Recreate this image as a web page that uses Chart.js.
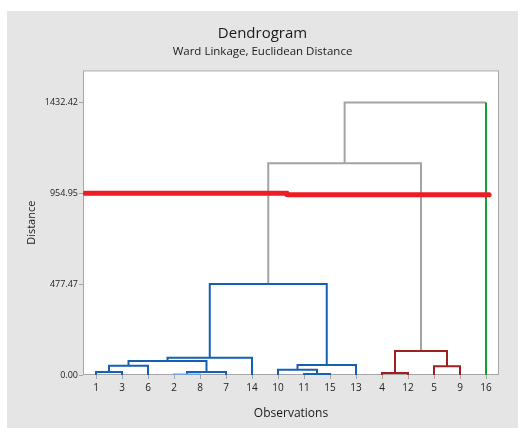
<!DOCTYPE html>
<html>
<head>
<meta charset="utf-8">
<script src="https://cdn.jsdelivr.net/npm/chart.js@4"></script>
<style>body{margin:0;background:#fff}</style>
</head>
<body>
<canvas id="myChart" width="518" height="428"></canvas>
<script>
// leaf labels in plotted order
var leaves = ['1', '3', '6', '2', '8', '7', '14', '10', '11', '15', '13', '4', '12', '5', '9', '16'];
// linkage: node 0-15 are leaves (plot order), merge k makes node 16+k
var mergeLeft   = [0, 16, 3, 18, 17, 20, 8, 7, 23, 21, 11, 13, 26, 25, 29];
var mergeRight  = [1, 2, 4, 5, 19, 6, 9, 22, 10, 24, 12, 14, 27, 28, 15];
var mergeHeight = [16, 49, 2, 16, 73.5, 91, 5, 28, 52.5, 478, 10, 45.5, 126, 1113.6, 1432.42];
var yTicks = [0, 477.47, 954.95, 1432.42];
// similarity cut line (drawn in two pieces, as in the original)
var cutLevels = [954.95, 948];
var cutFrom = [0.58, 8.35];
var cutTo = [8.35, 16.12];

var BLUE = '#1560b4', LIGHTBLUE = '#6fa3dc', RED = '#a01f23', GRAY = '#a3a3a3', GREEN = '#15a032';
var mergeColor = [BLUE, BLUE, LIGHTBLUE, BLUE, BLUE, BLUE, BLUE, BLUE, BLUE, BLUE, RED, RED, RED, GRAY, GRAY];
var leafColor = {15: GREEN};

var FONT = "'Open Sans', 'Noto Sans', sans-serif";

var nodeX = leaves.map(function(l, i) { return i + 1; });
var nodeY = leaves.map(function() { return 0; });
var datasets = [];

cutLevels.forEach(function(lvl, i) {
    datasets.push({
        data: [{x: cutFrom[i], y: lvl}, {x: cutTo[i], y: lvl}],
        borderColor: '#ee1d25',
        borderWidth: 5,
        borderCapStyle: 'round',
        pointRadius: 0,
        showLine: true
    });
});

mergeHeight.forEach(function(h, k) {
    var a = mergeLeft[k], b = mergeRight[k];
    var col = mergeColor[k];
    var segCols = [leafColor[a] || col, col, leafColor[b] || col];
    datasets.push({
        data: [
            {x: nodeX[a], y: nodeY[a]},
            {x: nodeX[a], y: h},
            {x: nodeX[b], y: h},
            {x: nodeX[b], y: nodeY[b]}
        ],
        borderColor: col,
        borderWidth: 2,
        borderJoinStyle: 'miter',
        pointRadius: 0,
        showLine: true,
        segment: {
            borderColor: function(c) { return segCols[c.p0DataIndex]; }
        }
    });
    nodeX.push((nodeX[a] + nodeX[b]) / 2);
    nodeY.push(h);
});

var frame = {
    id: 'frame',
    beforeDraw: function(chart) {
        var c = chart.ctx, a = chart.chartArea;
        c.save();
        c.fillStyle = '#e5e5e5';
        c.fillRect(7, 11, chart.width - 7, chart.height - 11);
        c.fillStyle = '#fff';
        c.fillRect(a.left, a.top, a.right - a.left, a.bottom - a.top);
        c.strokeStyle = '#a6a6a6';
        c.lineWidth = 1;
        c.strokeRect(a.left + 0.5, a.top + 0.5, a.right - a.left - 1, a.bottom - a.top - 1);
        c.restore();
    }
};

var ctx = document.getElementById('myChart').getContext('2d');
var myChart = new Chart(ctx, {
    type: 'scatter',
    data: {datasets: datasets},
    plugins: [frame],
    options: {
        responsive: false,
        animation: false,
        layout: {padding: {top: 11, left: 7, right: 0, bottom: 0}},
        plugins: {
            legend: {display: false},
            tooltip: {enabled: false},
            title: {
                display: true,
                text: 'Dendrogram',
                color: '#1a1a1a',
                font: {family: FONT, size: 15, weight: 'normal'},
                padding: {top: 14, bottom: 2}
            },
            subtitle: {
                display: true,
                text: 'Ward Linkage, Euclidean Distance',
                color: '#1a1a1a',
                font: {family: FONT, size: 11.5},
                padding: {top: 0, bottom: 11.6}
            }
        },
        scales: {
            x: {
                type: 'linear',
                min: 0.5,
                max: 16.5,
                afterBuildTicks: function(s) {
                    s.ticks = leaves.map(function(l, i) { return {value: i + 1}; });
                },
                afterFit: function(s) { s.height = 53; },
                ticks: {
                    autoSkip: false,
                    maxRotation: 0,
                    padding: 3,
                    color: '#222',
                    font: {family: FONT, size: 10},
                    callback: function(v, i) { return leaves[i]; }
                },
                grid: {drawOnChartArea: false, tickLength: 4, color: '#a6a6a6'},
                border: {display: false},
                title: {
                    display: true,
                    text: 'Observations',
                    color: '#1a1a1a',
                    font: {family: FONT, size: 12},
                    padding: {top: 0, bottom: 6.8}
                }
            },
            y: {
                min: 0,
                max: 1601,
                afterBuildTicks: function(s) {
                    s.ticks = yTicks.map(function(v) { return {value: v}; });
                },
                afterFit: function(s) { s.width = 76; },
                ticks: {
                    padding: 1,
                    color: '#222',
                    font: {family: FONT, size: 9},
                    callback: function(v) { return v.toFixed(2); }
                },
                grid: {drawOnChartArea: false, tickLength: 4, color: '#a6a6a6'},
                border: {display: false},
                title: {
                    display: true,
                    text: 'Distance',
                    color: '#1a1a1a',
                    font: {family: FONT, size: 11},
                    padding: {top: 18.4, bottom: 0}
                }
            },
            // empty right strip so the titles centre on the whole grey panel
            yRight: {
                position: 'right',
                min: 0,
                max: 1601,
                afterFit: function(s) { s.width = 19; },
                ticks: {display: false},
                grid: {display: false},
                border: {display: false}
            }
        }
    }
});
</script>
</body>
</html>
